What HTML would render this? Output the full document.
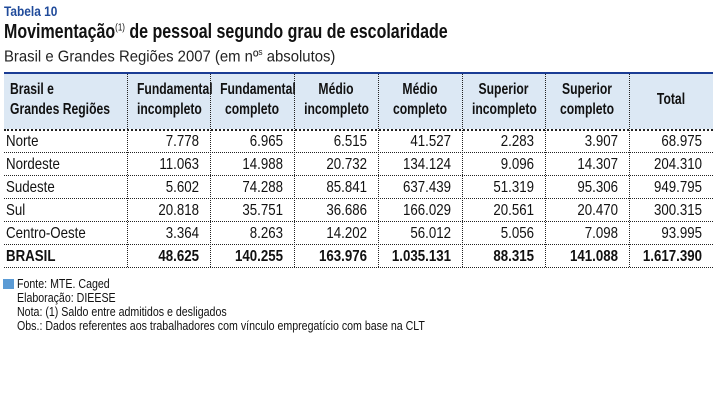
<!DOCTYPE html>
<html><head><meta charset="utf-8"><style>
body{margin:0;width:725px;height:406px;background:#fff;position:relative;font-family:"Liberation Sans",sans-serif;color:#111;overflow:hidden}
.a{position:absolute;white-space:nowrap;transform-origin:left top}
.hd{position:absolute;top:74px;height:55px;background:#dce8f4}
.vl{position:absolute;top:74px;height:193px;border-left:1px dotted #222}
.hl{position:absolute;left:4px;width:709px;border-top:1px dotted #222}
.c{position:absolute;font-size:16px;text-align:right;line-height:23px;height:23px;white-space:nowrap;transform:scaleX(0.83);transform-origin:right top}
.h{position:absolute;font-size:16px;font-weight:bold;text-align:center;line-height:20px;top:80px;white-space:nowrap;transform:scaleX(0.76);transform-origin:center top}
.f{position:absolute;left:17px;font-size:12.5px;line-height:14px;white-space:nowrap;transform:scaleX(0.85);transform-origin:left top}
</style></head><body>
<div class="a" style="left:4px;top:3px;font-size:14px;font-weight:bold;color:#1f4a9a;transform:scaleX(0.85)">Tabela 10</div>
<div class="a" style="left:4px;top:21px;font-size:20px;font-weight:bold;transform:scaleX(0.8)">Movimentação<sup style="font-size:10px;font-weight:normal">(1)</sup> de pessoal segundo grau de escolaridade</div>
<div class="a" style="left:4px;top:47px;font-size:16px;color:#222;transform:scaleX(0.93)">Brasil e Grandes Regiões 2007 (em nº<sup style="font-size:9px">s</sup> absolutos)</div>
<div class="hd" style="left:4px;width:709px"></div>
<div class="a" style="left:4px;top:72px;width:709px;height:2px;background:#1a3c94"></div>
<div class="hl" style="top:129px;border-top:2px dotted #222"></div>
<div class="hl" style="top:152px"></div><div class="hl" style="top:175px"></div><div class="hl" style="top:198px"></div><div class="hl" style="top:221px"></div><div class="hl" style="top:244px"></div><div class="hl" style="top:267px"></div>
<div class="vl" style="left:127px"></div><div class="vl" style="left:210px"></div><div class="vl" style="left:294px"></div><div class="vl" style="left:378px"></div><div class="vl" style="left:462px"></div><div class="vl" style="left:545px"></div><div class="vl" style="left:629px"></div>
<div class="h" style="left:10px;text-align:left;transform-origin:left top">Brasil e<br>Grandes Regiões</div>
<div class="h" style="left:127px;width:83px">Fundamental<br>incompleto</div>
<div class="h" style="left:210px;width:84px">Fundamental<br>completo</div>
<div class="h" style="left:294px;width:84px">Médio<br>incompleto</div>
<div class="h" style="left:378px;width:84px">Médio<br>completo</div>
<div class="h" style="left:462px;width:83px">Superior<br>incompleto</div>
<div class="h" style="left:545px;width:84px">Superior<br>completo</div>
<div class="h" style="left:629px;width:84px;top:90px">Total</div>
<div id="rows"></div>
<script>
var d=[["Norte","7.778","6.965","6.515","41.527","2.283","3.907","68.975"],
["Nordeste","11.063","14.988","20.732","134.124","9.096","14.307","204.310"],
["Sudeste","5.602","74.288","85.841","637.439","51.319","95.306","949.795"],
["Sul","20.818","35.751","36.686","166.029","20.561","20.470","300.315"],
["Centro-Oeste","3.364","8.263","14.202","56.012","5.056","7.098","93.995"],
["BRASIL","48.625","140.255","163.976","1.035.131","88.315","141.088","1.617.390"]];
var x=[4,127,210,294,378,462,545,629,713],h="";
d.forEach(function(r,i){var y=130+i*23,b=i==5?"font-weight:bold;":"";
r.forEach(function(v,j){if(j==0)h+='<div class="c" style="'+b+'left:6px;top:'+y+'px;text-align:left;transform-origin:left top">'+v+'</div>';
else h+='<div class="c" style="'+b+'left:'+x[j]+'px;top:'+y+'px;width:'+(x[j+1]-x[j]-11)+'px">'+v+'</div>';});});
document.getElementById('rows').innerHTML=h;
</script>
<div class="a" style="left:3px;top:279px;width:11px;height:10px;background:#5b9bd5"></div>
<div class="f" style="top:277px">Fonte: MTE. Caged</div>
<div class="f" style="top:291px">Elaboração: DIEESE</div>
<div class="f" style="top:305px">Nota: (1) Saldo entre admitidos e desligados</div>
<div class="f" style="top:319px">Obs.: Dados referentes aos trabalhadores com vínculo empregatício com base na CLT</div>
</body></html>
